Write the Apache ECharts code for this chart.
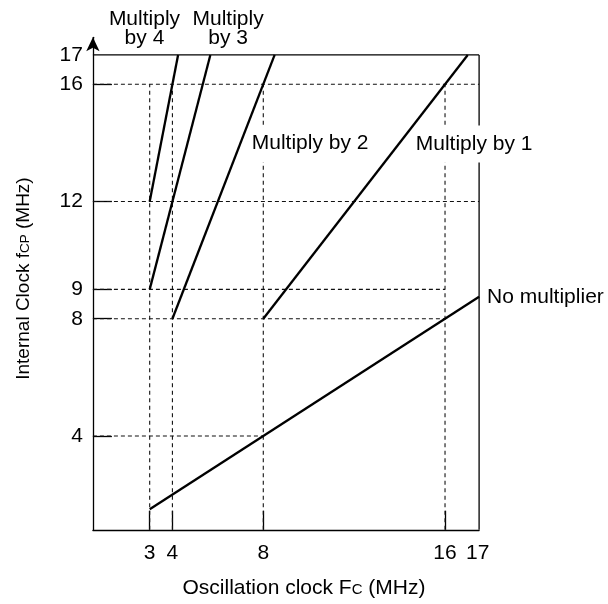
<!DOCTYPE html>
<html>
<head>
<meta charset="utf-8">
<title>Internal clock vs oscillation clock</title>
<script src="https://cdn.jsdelivr.net/npm/echarts@6/dist/echarts.min.js"></script>
<style>
  html, body { margin: 0; padding: 0; background: #fff; }
  #chart { width: 608px; height: 604px; }
</style>
</head>
<body>
<div id="chart"></div>
<script>
// Axis ranges and tick labels (MHz)
const xRange = [0.5, 17.5];
const yRange = [0.8, 17.6];
const xTickValues = [3, 4, 8, 16];
const xLabelValues = [3, 4, 8, 16, 17];
const yTickValues = [4, 8, 9, 12, 16];
const yLabelValues = [4, 8, 9, 12, 16, 17];

// Operating ranges: [fc, fcp] end points for each multiplier setting
const noMultiplier = [[3, 1.5], [17.5, 8.75]];
const multiplyBy1 = [[8, 8], [17, 17]];
const multiplyBy2 = [[4, 8], [8.5, 17]];
const multiplyBy3 = [[3, 9], [5.67, 17]];
const multiplyBy4 = [[3, 12], [4.25, 17]];

// Dashed guide lines
const hGuideLevels = [16, 12, 9, 8, 4];
const hGuideEnds = [17.5, 17.5, 16, 16, 8];
const vGuideLevels = [3, 4, 8, 16];
const vGuideTop = 16;

// Frame: top edge at 17 MHz, right edge at the axis end
const frameTop = 17;

const FONT = '"Liberation Sans", Arial, Helvetica, sans-serif';
const INK = '#000';
const FS = 21;

const chart = echarts.init(document.getElementById('chart'), null, { renderer: 'canvas' });

const solidLine = (name, data) => ({
  name, type: 'line', data, symbol: 'none', silent: true, z: 5,
  lineStyle: { color: INK, width: 2.3 }
});

const series = [];

hGuideLevels.forEach((y, i) => {
  series.push({
    type: 'line', symbol: 'none', silent: true, z: 2,
    data: [[xRange[0], y], [hGuideEnds[i], y]],
    lineStyle: { color: '#111', width: 1.1, type: [4, 3] }
  });
});
vGuideLevels.forEach((x) => {
  series.push({
    type: 'line', symbol: 'none', silent: true, z: 2,
    data: [[x, yRange[0]], [x, vGuideTop]],
    lineStyle: { color: '#111', width: 1.1, type: [4, 3.5] }
  });
});

// Frame edges
series.push({
  type: 'line', symbol: 'none', silent: true, z: 3,
  data: [[xRange[0], frameTop], [xRange[1], frameTop]],
  lineStyle: { color: INK, width: 1.3 }
});
series.push({
  type: 'line', symbol: 'none', silent: true, z: 3,
  data: [[xRange[1], yRange[0]], [xRange[1], frameTop]],
  lineStyle: { color: INK, width: 1.3 }
});

const noMult = solidLine('No multiplier', noMultiplier);
noMult.endLabel = {
  show: true, formatter: 'No multiplier', distance: 8,
  color: INK, fontSize: FS, fontFamily: FONT
};
series.push(noMult);
series.push(solidLine('Multiply by 1', multiplyBy1));
series.push(solidLine('Multiply by 2', multiplyBy2));
series.push(solidLine('Multiply by 3', multiplyBy3));
series.push(solidLine('Multiply by 4', multiplyBy4));

// Text annotations for the multiplier lines; inside the plot a white box
// hides the dashed guides behind the text, the solid lines stay on top
const knockout = { backgroundColor: '#fff', padding: [9, 1, 9, 1] };
series.push({
  type: 'scatter', silent: true, clip: false, z: 4,
  symbolSize: 1,
  itemStyle: { color: '#fff', opacity: 0 },
  label: {
    show: true, position: 'inside', align: 'center', verticalAlign: 'middle',
    formatter: (p) => p.name,
    color: INK, opacity: 1, textBorderWidth: 0, textShadowBlur: 0,
    fontSize: FS, lineHeight: 19, fontFamily: FONT
  },
  data: [
    { name: 'Multiply\nby 4', value: [2.77, 17.89] },
    { name: 'Multiply\nby 3', value: [6.45, 17.89] },
    { name: 'Multiply by 2', value: [10.06, 13.98], label: knockout },
    { name: 'Multiply by 1', value: [17.28, 13.96], label: knockout }
  ]
});

// Small capitals sitting on the baseline of the surrounding text
const smallCaps = (size) => ({ fontSize: size, color: INK, fontFamily: FONT, verticalAlign: 'middle', padding: [4, 0, 0, 0] });

const option = {
  animation: false,
  backgroundColor: '#fff',
  textStyle: { fontFamily: FONT },
  grid: { left: 92.9, right: 128.9, top: 37.35, bottom: 74.25, containLabel: false },
  xAxis: {
    type: 'value', min: xRange[0], max: xRange[1],
    name: 'Oscillation clock F{s|C} (MHz)',
    nameLocation: 'middle', nameGap: 58,
    nameTextStyle: {
      color: INK, fontSize: FS, fontFamily: FONT, padding: [0, 0, 0, 36],
      verticalAlign: 'middle',
      rich: { s: smallCaps(15) }
    },
    axisLine: { show: true, lineStyle: { color: INK, width: 1.3 } },
    axisTick: { show: true, inside: true, length: 19, customValues: xTickValues,
                lineStyle: { color: INK, width: 1.3 } },
    axisLabel: {
      show: true, customValues: xLabelValues, margin: 13,
      color: INK, fontSize: FS, fontFamily: FONT,
      // the top value sits against the frame edge, kept clear of "16"
      formatter: (v) => (v === 17 ? '{r|17}' : String(v)),
      rich: { r: { fontSize: FS, color: INK, fontFamily: FONT, padding: [0, 0, 0, 20] } }
    },
    splitLine: { show: false }
  },
  yAxis: {
    type: 'value', min: yRange[0], max: yRange[1],
    name: 'Internal Clock f{s|CP} (MHz)',
    nameLocation: 'middle', nameGap: 60,
    nameTextStyle: {
      color: INK, fontSize: 19, fontFamily: FONT, padding: [0, 0, 0, 10],
      rich: { s: smallCaps(13.5) }
    },
    axisLine: {
      show: true, symbol: ['none', 'arrow'], symbolSize: [10, 14],
      lineStyle: { color: INK, width: 1.3 }
    },
    axisTick: { show: true, inside: true, length: 19, customValues: yTickValues,
                lineStyle: { color: INK, width: 1.3 } },
    axisLabel: { show: true, customValues: yLabelValues, margin: 10,
                 color: INK, fontSize: FS, fontFamily: FONT },
    splitLine: { show: false }
  },
  series
};

chart.setOption(option);
</script>
</body>
</html>
